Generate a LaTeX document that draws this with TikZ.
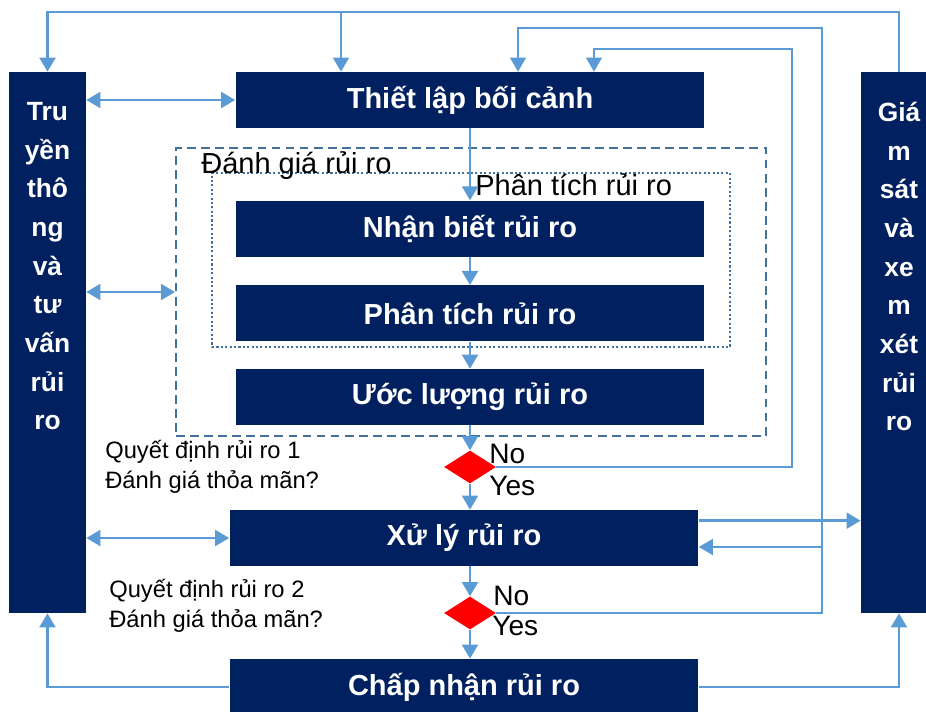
\documentclass[tikz,border=0pt]{standalone}
\usepackage{fontspec}
\setmainfont{Liberation Sans}
\usepackage{tikz}
\usetikzlibrary{positioning, arrows.meta, calc, shapes.geometric}
\usepackage{xcolor}
\definecolor{navy}{HTML}{002060}
\definecolor{flowblue}{HTML}{5B9BD5}
\definecolor{framegray}{HTML}{41719C}

\begin{document}
\begin{tikzpicture}[
  x=0.02cm, y=-0.02cm,
  >={Triangle[length=8pt, width=9pt]},
  stage/.style={fill=navy, minimum width=9.38cm, minimum height=1.12cm,
                inner sep=0pt, text=white, font=\fontsize{16.5}{20}\selectfont\bfseries},
  side/.style={fill=navy, minimum width=1.54cm, minimum height=10.82cm, inner sep=0pt},
  sidetext/.style={text=white, align=center, inner sep=0pt,
                   font=\fontsize{15}{22}\selectfont\bfseries},
  decision/.style={diamond, fill=red, inner sep=0pt,
                   minimum width=1.04cm, minimum height=0.66cm},
  evalbox/.style={draw=framegray, line width=1.1pt, dash pattern=on 5pt off 3pt,
                  inner sep=0pt},
  analbox/.style={draw=framegray, line width=1.2pt, dash pattern=on 1.2pt off 1.3pt,
                  inner sep=0pt},
  boxlabel/.style={font=\fontsize{16.5}{20}\selectfont, inner sep=0pt},
  question/.style={font=\fontsize{13.5}{17}\selectfont, align=left, inner sep=0pt},
  yesno/.style={font=\fontsize{16}{20}\selectfont, inner sep=0pt, anchor=base west},
  arrow/.style={->, line width=1.5pt, draw=flowblue},
  darrow/.style={<->, line width=1.5pt, draw=flowblue},
  feedback/.style={line width=1pt, draw=flowblue},
]
  \useasboundingbox (0,0) rectangle (926,711);
  \clip (0,0) rectangle (926,711);
  % Side columns
  \node[side] (comm) at (47.5,342.5) {};
  \node[sidetext, anchor=north] (commtxt) at (47.5,102)
    {Tru\\yền\\thô\\ng\\và\\tư\\vấn\\rủi\\ro};
  \node[side, minimum width=1.52cm] (mon) at (899,342.5) {};
  \node[sidetext, anchor=north] (montxt) at (899,102)
    {Giá\\m\\sát\\và\\xe\\m\\xét\\rủi\\ro};
  % Assessment frames
  \node[evalbox, minimum width=11.8cm, minimum height=5.76cm] (assess) at (471,292) {};
  \node[analbox, minimum width=10.36cm, minimum height=3.48cm] (analysis) at (471,260) {};
  \node[boxlabel, anchor=base west] (assesslbl) at (201,173) {Đánh giá rủi ro};
  \node[boxlabel, anchor=base west] (analysislbl) at (475,195) {Phân tích rủi ro};
  % Main column
  \node[stage] (ctx) at (470,100) {Thiết lập bối cảnh};
  \node[stage, below=1.44cm of ctx] (ident) {Nhận biết rủi ro};
  \node[stage, below=0.56cm of ident] (anal) {Phân tích rủi ro};
  \node[stage, below=0.54cm of anal] (est) {Ước lượng rủi ro};
  \node[decision] (dec1) at (470,467) {};
  \node[stage] (treat) at (464,538) {Xử lý rủi ro};
  \node[decision] (dec2) at (470,613) {};
  \node[stage] (accept) at (464,687) {Chấp nhận rủi ro};
  % Decision texts
  \node[question, anchor=base west] (q1) at (105,488)
    {Quyết định rủi ro 1\\Đánh giá thỏa mãn?};
  \node[question, anchor=base west] (q2) at (109,627)
    {Quyết định rủi ro 2\\Đánh giá thỏa mãn?};
  \node[yesno] (no1) at (489,463) {No};
  \node[yesno] (yes1) at (489,495) {Yes};
  \node[yesno] (no2) at (493,605) {No};
  \node[yesno] (yes2) at (492,635) {Yes};
  % Flow
  \draw[arrow] (ctx) -- (ident);
  \draw[arrow] (ident) -- (anal);
  \draw[arrow] (anal) -- (est);
  \draw[arrow] (est) -- (dec1);
  \draw[arrow] (dec1) -- (dec1 |- treat.north);
  \draw[arrow] (dec1 |- treat.south) -- (dec2);
  \draw[arrow] (dec2) -- (dec2 |- accept.north);
  % Feedback loops
  \coordinate (ret1) at (792,49);
  \coordinate (ret1in) at (594,49);
  \draw[feedback, ->] (dec1.east) -| (ret1) -- (ret1in) -- (ret1in |- ctx.north);
  \coordinate (ret2) at (822,28);
  \coordinate (ret2in) at (518,28);
  \draw[feedback, ->] (dec2.east) -| (ret2) -- (ret2in) -- (ret2in |- ctx.north);
  \coordinate (ret2mid) at (822,547);
  \draw[arrow] (ret2mid) -- (ret2mid -| treat.east);
  % Monitoring
  \coordinate (split) at (341,12);
  \draw[feedback] (mon.north) |- (split);
  \draw[arrow] (split) -| (comm.north);
  \draw[arrow] (split) -- (split |- ctx.north);
  \coordinate (treatout) at ($(treat.north east)+(0,11)$);
  \draw[arrow] (treatout) -- (treatout -| mon.west);
  \draw[arrow] (accept.east) -| (mon.south);
  \draw[arrow] (accept.west) -| (comm.south);
  % Communication
  \draw[darrow] (comm.east |- ctx) -- (ctx.west);
  \draw[darrow] (comm.east |- assess) -- (assess.west);
  \draw[darrow] (comm.east |- treat) -- (treat.west);
\end{tikzpicture}
\end{document}
